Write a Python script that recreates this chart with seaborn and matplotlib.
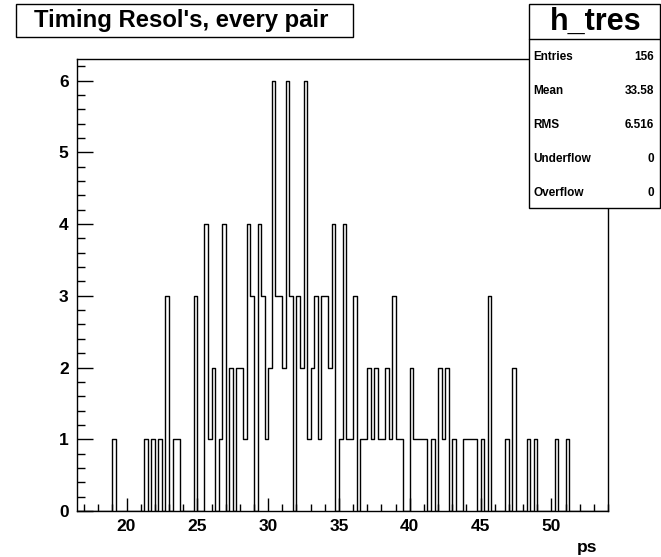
import numpy as np
import pandas as pd
import matplotlib
matplotlib.use("Agg")
import matplotlib.pyplot as plt
import seaborn as sns
from matplotlib.patches import Rectangle
from matplotlib.lines import Line2D
from matplotlib.ticker import MultipleLocator

# ---------------- data ----------------
title = "Timing Resol's, every pair"
hist_name = "h_tres"
x_label = "ps"

# lower edge of each non-empty bin (bin width 0.25 ps) and its count
bin_low = [19.0,
           21.25, 21.75, 22.25, 22.75, 23.25, 23.5,
           24.75,
           25.5, 25.75, 26.0,
           26.5, 26.75,
           27.25, 27.75, 28.0, 28.25, 28.5, 28.75,
           29.25, 29.5, 29.75, 30.0, 30.25, 30.5, 30.75, 31.0, 31.25, 31.5,
           32.0, 32.25, 32.5, 32.75, 33.0, 33.25, 33.5, 33.75, 34.0, 34.25, 34.5,
           35.0, 35.25, 35.5, 35.75, 36.0,
           36.5, 36.75, 37.0, 37.25, 37.5, 37.75, 38.0, 38.25, 38.5, 38.75, 39.0, 39.25,
           40.0, 40.25, 40.5, 40.75, 41.0,
           41.5, 42.0, 42.25, 42.5, 43.0,
           43.75, 44.0, 44.25, 44.5, 45.0, 45.5,
           46.75, 47.25, 48.25, 48.75, 50.25, 51.0]
counts = [1,
          1, 1, 1, 3, 1, 1,
          3,
          4, 1, 2,
          1, 4,
          2, 2, 2, 1, 4, 3,
          4, 3, 1, 2, 6, 3, 3, 2, 6, 3,
          3, 2, 6, 1, 2, 3, 1, 3, 3, 2, 4,
          1, 4, 1, 1, 3,
          1, 1, 2, 1, 2, 1, 1, 2, 1, 3, 1, 1,
          2, 1, 1, 1, 1,
          1, 2, 1, 2, 1,
          1, 1, 1, 1, 1, 3,
          1, 2, 1, 1, 1, 1]

stat_names = ["Entries", "Mean", "RMS", "Underflow", "Overflow"]
stat_values = ["156", "33.58", "6.516", "0", "0"]

x_range = (16.5, 54.0)
bin_width = 0.25
y_max = 6.3
x_major_ticks = [20, 25, 30, 35, 40, 45, 50]
y_major_ticks = [0, 1, 2, 3, 4, 5, 6]

# ---------------- style ----------------
sns.set_style("white")
plt.rcParams['font.family'] = ['Liberation Sans', 'DejaVu Sans']
plt.rcParams['font.weight'] = 'bold'
plt.rcParams['text.color'] = 'black'
plt.rcParams['xtick.color'] = 'black'
plt.rcParams['ytick.color'] = 'black'

W, H = 661, 557
fig = plt.figure(figsize=(W / 100, H / 100), dpi=100)
fig.patch.set_facecolor("white")


def fx(px):
    return px / W


def fy(py):
    return 1 - py / H


ax = fig.add_axes([fx(77), fy(511), fx(608) - fx(77), fy(59) - fy(511)])

df = pd.DataFrame({"ps": np.array(bin_low) + bin_width / 2, "n": counts})
sns.histplot(data=df, x="ps", weights="n", binwidth=bin_width,
             binrange=x_range, element="step",
             fill=False, color="black", linewidth=1.0, ax=ax)

ax.set_xlim(*x_range)
ax.set_ylim(0, y_max)
ax.set_xlabel("")
ax.set_ylabel("")
ax.set_xticks(x_major_ticks)
ax.set_yticks(y_major_ticks)
ax.xaxis.set_minor_locator(MultipleLocator(1))
ax.yaxis.set_minor_locator(MultipleLocator(0.2))
for s in ax.spines.values():
    s.set_visible(True)
    s.set_linewidth(1.0)
    s.set_color("black")

ax.tick_params(axis="x", which="major", direction="in", length=9.4, width=1,
               labelsize=12.5, pad=5.5, bottom=True, top=False, colors="black")
ax.tick_params(axis="x", which="minor", direction="in", length=4.7, width=1,
               bottom=True, top=False)
ax.tick_params(axis="y", which="major", direction="in", length=11.5, width=1,
               labelsize=12.5, pad=6.0, left=True, right=False, colors="black")
ax.tick_params(axis="y", which="minor", direction="in", length=5.8, width=1,
               left=True, right=False)
for lab in ax.get_xticklabels() + ax.get_yticklabels():
    lab.set_fontweight("bold")
    lab.set_color("black")

fig.text(fx(597), fy(552), x_label, ha="right", va="baseline",
         fontsize=12.5, fontweight="bold", color="black")

# ---------------- title box ----------------
fig.add_artist(Rectangle((fx(16), fy(37)), fx(353) - fx(16), fy(4) - fy(37),
                         transform=fig.transFigure, facecolor="white",
                         edgecolor="black", linewidth=1.0, zorder=5))
fig.text(fx(34), fy(21), title, ha="left", va="center",
         fontsize=17.2, fontweight="bold", color="black", zorder=6)

# ---------------- stats box ----------------
bx0, bx1, by0, by1 = 529, 660, 4, 208
fig.add_artist(Rectangle((fx(bx0), fy(by1)), fx(bx1) - fx(bx0), fy(by0) - fy(by1),
                         transform=fig.transFigure, facecolor="white",
                         edgecolor="black", linewidth=1.0, zorder=5))
fig.add_artist(Line2D([fx(bx0), fx(bx1)], [fy(39), fy(39)],
                      transform=fig.transFigure, color="black", linewidth=1.0,
                      zorder=6))
fig.text(fx(596), fy(22), hist_name, ha="center", va="center",
         fontsize=22, fontweight="bold", color="black", zorder=7)
row_y = [57, 91, 125, 159, 193]
for name, val, yy in zip(stat_names, stat_values, row_y):
    fig.text(fx(533), fy(yy), name, ha="left", va="center",
             fontsize=8.5, fontweight="bold", color="black", zorder=7)
    fig.text(fx(654), fy(yy), val, ha="right", va="center",
             fontsize=8.5, fontweight="bold", color="black", zorder=7)

fig.savefig("out.png", dpi=100)
